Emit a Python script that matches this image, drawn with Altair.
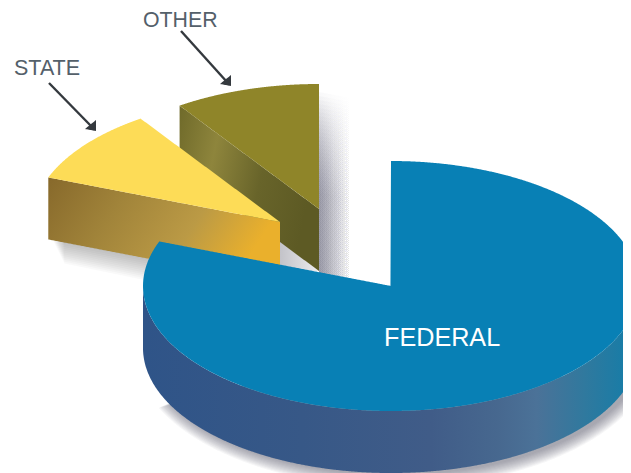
import numpy as np
import pandas as pd
import altair as alt

# Data
categories = ["FEDERAL", "STATE", "OTHER"]
shares = [80.8, 9.7, 9.5]  # percent of the pie
top_colors = ["#0880b5", "#fddc57", "#8f8529"]

label_text = ["FEDERAL", "STATE", "OTHER"]
label_x = [384, 14, 143]
label_y = [338, 69, 21]
label_size = [25.2, 21.5, 21.3]
label_color = ["#ffffff", "#54606a", "#54606a"]

# Drawing geometry of the 3-D pie
RX, RY, DEPTH = 248, 125, 62
centers = {"FEDERAL": (391, 286), "STATE": (280, 222), "OTHER": (319, 209)}
X_MIN, X_MAX, Y_MIN, Y_MAX = 8, 623, 8, 473


def columns(poly):
    """Turn a polygon into x, y, y2 columns so it can be drawn as an area."""
    pts = np.array(poly, dtype=float)
    grid = np.arange(np.ceil(pts[:, 0].min()), np.floor(pts[:, 0].max()) + 1, 1.0)
    xs = np.unique(np.concatenate([grid, pts[:, 0]]))
    xs = xs[(xs >= X_MIN) & (xs <= X_MAX)]
    rows = []
    nxt = np.roll(pts, -1, axis=0)
    for x in xs:
        ys = []
        for (x1, y1), (x2, y2) in zip(pts, nxt):
            if x1 == x2:
                if x == x1:
                    ys += [y1, y2]
            elif min(x1, x2) <= x <= max(x1, x2):
                ys.append(y1 + (x - x1) / (x2 - x1) * (y2 - y1))
        if ys:
            rows.append({"x": x, "y": min(ys), "y2": min(max(ys), Y_MAX)})
    return pd.DataFrame(rows)


def rim(c, t, rx=RX, ry=RY):
    return (c[0] + rx * np.sin(t), c[1] - ry * np.cos(t))


def sector(c, a0, a1):
    ts = np.linspace(a0, a1, 240)
    return [c] + [rim(c, t) for t in ts]


def grad(stops, x1=0, y1=0, x2=1, y2=0):
    return alt.Gradient(
        gradient="linear",
        stops=[alt.GradientStop(color=col, offset=o) for o, col in stops],
        x1=x1, x2=x2, y1=y1, y2=y2,
    )


xs = alt.Scale(domain=[X_MIN, X_MAX], nice=False, zero=False)
ys = alt.Scale(domain=[Y_MAX, Y_MIN], nice=False, zero=False)


def area(poly, color, opacity=1.0):
    return alt.Chart(columns(poly)).mark_area(color=color, opacity=opacity, line=False).encode(
        x=alt.X("x:Q", scale=xs, axis=None),
        y=alt.Y("y:Q", scale=ys, axis=None),
        y2="y2:Q",
    )


# Slice angles, clockwise from the top
edges = np.radians(np.cumsum([0] + shares) * 3.6)
angle = {k: (edges[i], edges[i + 1]) for i, k in enumerate(categories)}


def edge_wall(name):
    c = centers[name]
    p = rim(c, angle[name][0])
    return [p, c, (c[0], c[1] + DEPTH), (p[0], p[1] + DEPTH)]


layers = []

# Shadow to the right of OTHER
c = centers["OTHER"]
fade = grad([(0, "rgba(105,105,125,0.045)"), (0.45, "rgba(105,105,125,0.02)"), (1, "rgba(105,105,125,0)")])
for k in range(26):
    top = 92 + k * 4
    layers.append(area([(c[0], top), (c[0] + 32, top + 6), (c[0] + 32, 280), (c[0], 280)], fade))

# Shadow below the bottom edge of OTHER's wall
layers.append(area([(c[0] - 42, c[1] + DEPTH - 32), (c[0], c[1] + DEPTH), (c[0] - 42, c[1] + DEPTH)],
                   grad([(0, "#c0c0c6"), (1, "#ececee")])))

# OTHER
layers.append(area(edge_wall("OTHER"),
                   grad([(0, "#6f6a2a"), (0.3, "#8e853c"), (0.65, "#68642a"), (1, "#5d5a24")], 0, 0, 1, 0.25)))
layers.append(area(sector(centers["OTHER"], *angle["OTHER"]), top_colors[2]))

# Shadow under STATE
c = centers["STATE"]
p = rim(c, angle["STATE"][0])
for k in range(1, 13):
    layers.append(area([(p[0] + 4 + k, p[1] + DEPTH), (c[0], c[1] + DEPTH),
                        (c[0], c[1] + DEPTH + k * 2), (p[0] + 4 + k, p[1] + DEPTH + k * 2)],
                       "#6a6a72", 0.04))

# STATE
layers.append(area(edge_wall("STATE"),
                   grad([(0, "#87692b"), (0.35, "#a1843a"), (0.7, "#bb9a45"), (1, "#eab02c")], 0, 0, 1, 0.3)))
layers.append(area(sector(centers["STATE"], *angle["STATE"]), top_colors[1]))

# Shadow under FEDERAL
c = centers["FEDERAL"]
for k in range(1, 13):
    arc = [rim((c[0] + 4, c[1] + DEPTH + 1), t, RX + k * 1.1, RY + k * 1.1)
           for t in np.linspace(np.pi * 0.6, np.pi * 1.36, 200)]
    layers.append(area(arc + [(c[0] + 4, c[1] + DEPTH)], "#55555c", 0.05))

# FEDERAL
front = [rim(c, t) for t in np.linspace(np.pi * 0.5, np.pi * 1.5, 400)]
layers.append(area(front + [(x, y + DEPTH) for x, y in reversed(front)],
                   grad([(0, "#2f5488"), (0.33, "#375887"), (0.6, "#405c88"), (0.74, "#47688f"),
                         (0.82, "#4b7298"), (0.92, "#30799e"), (1, "#1a7ca6")])))
layers.append(area(sector(c, *angle["FEDERAL"]), top_colors[0]))

# Arrows
for (x0, y0), (x1, y1) in [((49, 83), (92, 127)), ((181, 31), (227, 82))]:
    d = pd.DataFrame({"x": [x0], "y": [y0], "x2": [x1], "y2": [y1]})
    layers.append(alt.Chart(d).mark_rule(color="#34393e", strokeWidth=2.4).encode(
        x=alt.X("x:Q", scale=xs, axis=None), y=alt.Y("y:Q", scale=ys, axis=None), x2="x2:Q", y2="y2:Q"))
    tip = (x1 + 4, y1 + 4)
    layers.append(area([(tip[0] - 11, tip[1] - 2), (tip[0], tip[1] - 11), tip], "#34393e"))

# Labels
lab = pd.DataFrame({"t": label_text, "x": label_x, "y": label_y, "s": label_size, "c": label_color})
layers.append(alt.Chart(lab).mark_text(align="left", baseline="middle", font="Liberation Sans").encode(
    x=alt.X("x:Q", scale=xs, axis=None),
    y=alt.Y("y:Q", scale=ys, axis=None),
    text="t:N",
    size=alt.Size("s:Q", scale=None, legend=None),
    color=alt.Color("c:N", scale=None, legend=None),
))

chart = alt.layer(*layers).properties(
    width=X_MAX - X_MIN, height=Y_MAX - Y_MIN,
    padding=0, autosize=alt.AutoSizeParams(type="none"), background="white",
).configure_view(stroke=None)

chart.save("out.html", embed_options={"renderer": "svg", "actions": False})
